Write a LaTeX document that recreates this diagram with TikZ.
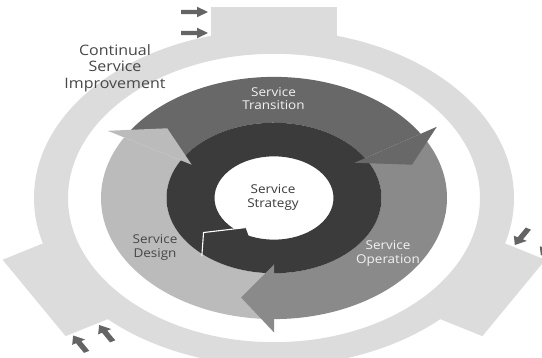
\documentclass[tikz,border=0pt]{standalone}
\usepackage{fontspec}
\setmainfont{Open Sans}
\definecolor{csigray}{HTML}{DCDCDC}
\definecolor{designgray}{HTML}{BBBBBB}
\definecolor{transgray}{HTML}{686868}
\definecolor{opgray}{HTML}{8A8A8A}
\definecolor{stratgray}{HTML}{3B3B3B}
\definecolor{inarrow}{HTML}{646464}
\definecolor{darktext}{HTML}{474747}
\definecolor{lighttext}{HTML}{F2F2F2}
\tikzset{
  stagelbl/.style={align=center, inner sep=0pt,
    font=\fontsize{13.5}{14.5}\selectfont, yscale=0.9},
  csilbl/.style={align=center, inner sep=0pt, text=darktext,
    font=\fontsize{16}{18.5}\selectfont, yscale=0.9},
}
% ring radii (drawn as circles, squashed vertically afterwards)
\def\rCore{59.5}
\def\rStrat{107.5}
\def\rStage{173}
\def\rCsiIn{206}
\def\rCsiOut{240}
% body of a lifecycle arrow: #1 colour, #2 tail angle, #3 back edge of the head
\newcommand{\stagebody}[3]{%
  \fill[#1] (#2:\rStage) arc[start angle=#2, end angle=#3, radius=\rStage]
    -- (#3:\rStrat) arc[start angle=#3, end angle=#2, radius=\rStrat] -- cycle;}
% head of a lifecycle arrow: #1 colour, #2 back edge angle
\newcommand{\stagehead}[2]{%
  \fill[#1] (#2:192) -- ({#2-13}:146) -- (#2:95) -- cycle;}
% a tab of the improvement ring with its two incoming arrows, #1 = angle
\newcommand{\csitab}[1]{%
  \begin{scope}[rotate={#1-90}]
    \fill[csigray] (-63,210) rectangle (63,277);
    \foreach \ry in {270,240}{
      \fill[inarrow] (-93,\ry-3) -- (-77,\ry-3) -- (-77,\ry-7.5) -- (-66,\ry)
        -- (-77,\ry+7.5) -- (-77,\ry+3) -- (-93,\ry+3) -- cycle;}
  \end{scope}}
\begin{document}
\begin{tikzpicture}[x=1pt,y=1pt]
  \useasboundingbox (0,0) rectangle (542,358);
  \fill[white] (0,0) rectangle (542,358);
  \clip (0,0) rectangle (542,358);

  % Continual Service Improvement ring
  \begin{scope}[shift={(274,160)}, yscale=0.7]
    \fill[csigray, even odd rule] (0,0) circle[radius=\rCsiOut] (0,0) circle[radius=\rCsiIn];
  \end{scope}
  % its three tabs, set slightly lower
  \begin{scope}[shift={(274,157)}, yscale=0.7]
    \csitab{90}
    \csitab{210}
    \csitab{330}
  \end{scope}

  \begin{scope}[shift={(274,160)}, yscale=0.7]
    % lifecycle arrow bodies
    \stagebody{designgray}{268}{150}
    \stagebody{transgray}{148}{32}
    \stagebody{opgray}{30}{-90}

    % Service Strategy ring and core
    \fill[stratgray, even odd rule] (0,0) circle[radius=\rStrat] (0,0) circle[radius=\rCore];
    \fill[stratgray] (215:88) -- (236:51) -- (245:60) -- cycle;
    \draw[white, line width=1.1pt] (229:110) -- (215:86) -- (236:51);

    % lifecycle arrow heads
    \stagehead{designgray}{150}
    \stagehead{transgray}{32}
    \stagehead{opgray}{-90}
  \end{scope}

  % labels
  \node[csilbl] (csi) at (115,290) {Continual\\Service\\Improvement};
  \node[stagelbl, text=lighttext] (trans) at (273.5,259) {Service\\Transition};
  \node[stagelbl, text=lighttext] (oper) at (388,104.5) {Service\\Operation};
  \node[stagelbl, text=darktext] (design) at (155,110.5) {Service\\Design};
  \node[stagelbl, text=stratgray] (strat) at (273,160.5) {Service\\Strategy};
\end{tikzpicture}
\end{document}
